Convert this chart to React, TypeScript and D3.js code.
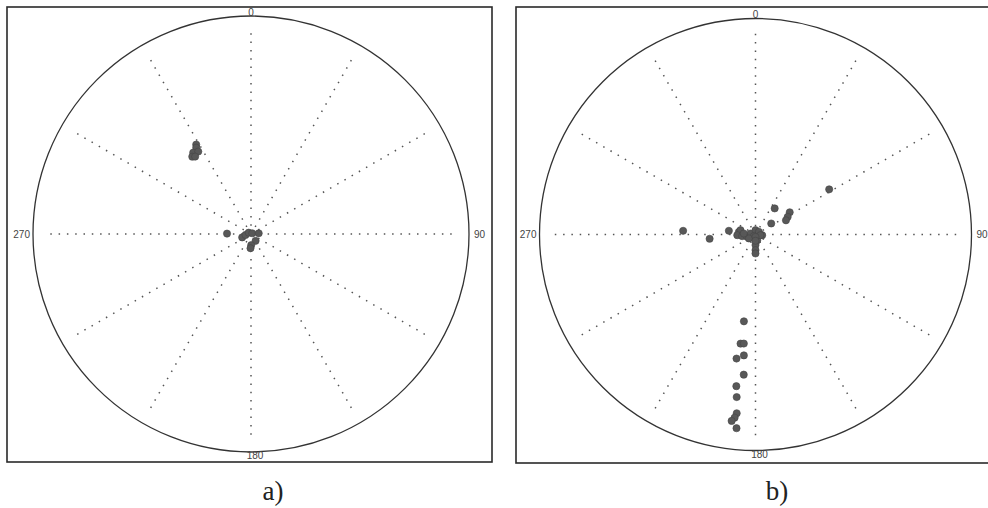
import React from "react";
import * as d3 from "d3";

// spoke directions and cardinal labels (degrees, clockwise from north)
const spokeAngles = [0, 30, 60, 90, 120, 150, 180, 210, 240, 270, 300, 330];
const cardinalAngles = [0, 90, 180, 270];
const cardinalLabels = ["0", "90", "180", "270"];

// panel a) azimuth / radial value (0..90)
const panelAAzimuth = [328.5, 327.6, 324.6, 327.4, 322.8, 324.2, 271, 249, 260, 300, 60, 85, 146, 179, 182];
const panelARadius = [43.3, 42.2, 41.2, 40.4, 40.1, 39.4, 9.9, 3.9, 2.3, 1.1, 0.6, 3.2, 3.4, 4.6, 5.9];

// panel b)
const panelBAzimuth = [
  58.5, 36.3, 57, 61.3, 65, 55, 272.9, 264.7, 277.9, 279, 286, 268, 263, 254.5, 281, 0, 51, 96, 225,
  163, 180, 180, 180, 239, 275, 98, 180, 180, 187.6, 187.8, 186.1, 185.5, 188.7, 184.8, 187.2, 186.6,
  186, 186.5, 187.3, 185.6,
];
const panelBRadius = [
  36, 13.5, 17, 15.3, 14, 8, 30.2, 19.2, 11.2, 7, 6.5, 7.6, 5.6, 3.6, 2.1, 1.8, 1.8, 2.8, 1, 2.5, 4.4,
  6.5, 7.9, 3.2, 4.9, 2.1, 1, 2.6, 36.5, 45.9, 45.7, 50.6, 52.3, 58.6, 63.7, 68.2, 74.9, 76.8, 78.3, 81.1,
];

const captions = ["a)", "b)"];

const panels = [
  { frame: [7, 7, 492, 462], cx: 251, cy: 234, R: 218, az: panelAAzimuth, rad: panelARadius, capX: 273 },
  { frame: [516, 7, 992, 463], cx: 755.5, cy: 234.5, R: 216, az: panelBAzimuth, rad: panelBRadius, capX: 777 },
];

const rad = (deg: number) => (deg * Math.PI) / 180;

const Panel = ({ p, caption }: { p: any; caption: string }) => {
  const r = d3.scaleLinear().domain([0, 90]).range([0, p.R]);
  const [x0, y0, x1, y1] = p.frame;
  const labelPos = (a: number) => {
    if (a === 0) return { x: p.cx, y: p.cy - p.R - 0.5, anchor: "middle" };
    if (a === 90) return { x: p.cx + p.R + 5, y: p.cy + 3.5, anchor: "start" };
    if (a === 180) return { x: p.cx + 4, y: p.cy + p.R + 7, anchor: "middle" };
    return { x: p.cx - p.R - 3, y: p.cy + 3.5, anchor: "end" };
  };
  return (
    <g>
      <rect x={x0} y={y0} width={x1 - x0} height={y1 - y0} fill="none" stroke="#2a2a2a" strokeWidth={1.6} />
      {spokeAngles.map((a) => {
        const [ex, ey] = d3.pointRadial(rad(a), r(85));
        return (
          <line
            key={a}
            x1={p.cx}
            y1={p.cy}
            x2={p.cx + ex}
            y2={p.cy + ey}
            stroke="#555"
            strokeWidth={1.5}
            strokeDasharray="1.5 6.8"
          />
        );
      })}
      <circle cx={p.cx} cy={p.cy} r={r(90)} fill="none" stroke="#333" strokeWidth={1.3} />
      {cardinalAngles.map((a, i) => {
        const l = labelPos(a);
        return (
          <text
            key={a}
            x={l.x}
            y={l.y}
            textAnchor={l.anchor}
            fontFamily="Liberation Sans, Arial, sans-serif"
            fontSize={10}
            fill="#444"
          >
            {cardinalLabels[i]}
          </text>
        );
      })}
      {p.az.map((a: number, i: number) => {
        const [px, py] = d3.pointRadial(rad(a), r(p.rad[i]));
        return <circle key={i} cx={p.cx + px} cy={p.cy + py} r={3.6} fill="#585858" stroke="#444" strokeWidth={0.6} />;
      })}
      <text
        x={p.capX}
        y={500}
        textAnchor="middle"
        fontFamily="Liberation Serif, Times New Roman, serif"
        fontSize={27}
        fill="#222"
      >
        {caption}
      </text>
    </g>
  );
};

export default function App() {
  return (
    <svg width={988} height={508} style={{ position: "absolute", left: 0, top: 0, background: "#fff" }}>
      {panels.map((p, i) => (
        <Panel key={i} p={p} caption={captions[i]} />
      ))}
    </svg>
  );
}
